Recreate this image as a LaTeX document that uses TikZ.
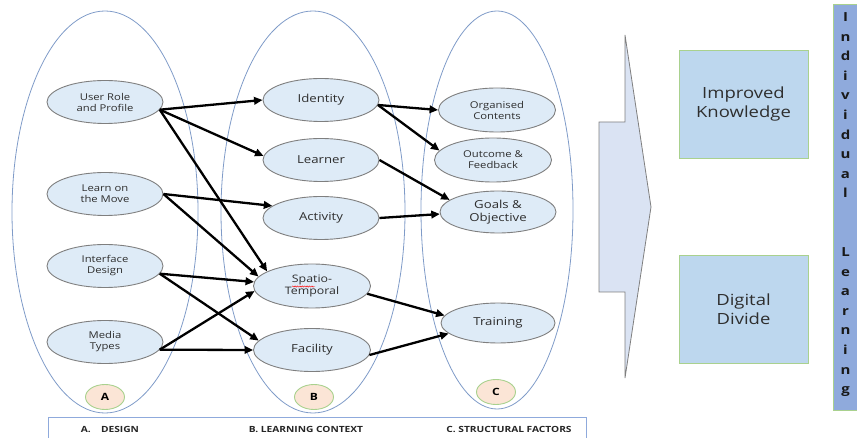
\documentclass[tikz,border=0pt]{standalone}
\usepackage{fontspec}
\setmainfont{Open Sans}
\usetikzlibrary{shapes.geometric,arrows.meta,decorations.pathmorphing}
\definecolor{bigline}{HTML}{7F9BC8}
\definecolor{nodefill}{HTML}{DEEBF7}
\definecolor{nodeline}{HTML}{7F7F7F}
\definecolor{txt}{HTML}{2E2E2E}
\definecolor{circfill}{HTML}{FBE5D6}
\definecolor{circline}{HTML}{A9D18E}
\definecolor{legline}{HTML}{8FAADC}
\definecolor{chevfill}{HTML}{DAE3F3}
\definecolor{boxfill}{HTML}{BDD7EE}
\definecolor{barfill}{HTML}{8FAADC}
\newcommand\hsc[1]{\scalebox{1.2}[1]{#1}}
\begin{document}
\begin{tikzpicture}[x=1pt,y=-1pt,
 group/.style={ellipse, draw=bigline, line width=0.8pt, inner sep=0},
 item/.style={ellipse, draw=nodeline, fill=nodefill, line width=0.9pt, inner sep=0,
   minimum width=116pt, minimum height=43pt, text=txt, align=center},
 sm/.style={font=\fontsize{9.4}{11}\selectfont},
 md/.style={font=\fontsize{11}{13}\selectfont},
 tag/.style={ellipse, draw=circline, fill=circfill, line width=0.9pt, minimum width=39pt,
   minimum height=25pt, inner sep=0, text=black, font=\bfseries\fontsize{10}{12}\selectfont},
 link/.style={-{Triangle[length=8.5pt,width=7.5pt]}, line width=2.3pt, black},
 outbox/.style={rectangle, draw=circline, fill=boxfill, line width=0.9pt, minimum width=129pt,
   minimum height=108pt, inner sep=0, text=txt, align=center, font=\fontsize{15.4}{19}\selectfont},
 legtext/.style={inner sep=0, text=black!85, font=\bfseries\fontsize{8.5}{10}\selectfont},
 vletter/.style={anchor=base, inner sep=0, text=black!90, font=\bfseries\fontsize{12.5}{14}\selectfont},
]
\useasboundingbox (0,0) rectangle (857,438);
% groups
\node[group, minimum width=186pt, minimum height=402pt] (ga) at (105,212) {};
\node[group, minimum width=184pt, minimum height=402pt] (gb) at (313,212) {};
\node[group, minimum width=152pt, minimum height=398pt] (gc) at (497,210) {};
% column A
\node[item, sm] (ur) at (105,102) {\hsc{User Role}\\\hsc{and Profile}};
\node[item, sm] (lm) at (105,194) {\hsc{Learn on}\\\hsc{the Move}};
\node[item, sm] (ifd) at (105,266) {\hsc{Interface}\\\hsc{Design}};
\node[item, sm] (mt) at (105,342) {\hsc{Media}\\\hsc{Types}};
\node[tag] (ta) at (105,397) {\hsc{A}};
% column B
\node[item, md] (idn) at (321,100) {\hsc{Identity}};
\node[item, md] (lrn) at (321,160) {\hsc{Learner}};
\node[item, md] (act) at (321,218) {\hsc{Activity}};
\node[item, font=\fontsize{10.3}{12}\selectfont, minimum width=117pt, minimum height=44pt] (spt) at (312,286) {\hsc{Spatio-}\\\hsc{Temporal}};
\node[item, md, minimum width=117pt] (fac) at (312,350) {\hsc{Facility}};
\node[tag] (tb) at (314,397) {\hsc{B}};
% column C
\node[item, sm, minimum width=117pt, minimum height=44pt] (org) at (497,110) {\hsc{Organised}\\\hsc{Contents}};
\node[item, sm, minimum width=117pt, minimum height=44pt] (out) at (493,160) {\hsc{Outcome \&}\\\hsc{Feedback}};
\node[item, md, minimum width=116pt, minimum height=42pt] (goa) at (498,212) {\hsc{Goals \&}\\\hsc{Objective}};
\node[item, md, minimum width=114pt, minimum height=40pt] (tra) at (498,323) {\hsc{Training}};
\node[tag] (tc) at (496,392) {\hsc{C}};
% spell-check squiggle
\draw[red, line width=0.45pt, decorate, decoration={snake, amplitude=0.6pt, segment length=2.4pt}]
  ([shift={(-20,0.5)}]spt.center) -- ([shift={(3,0.5)}]spt.center);
% arrows A -> B
\draw[link] (ur.-8) -- (idn.west);
\draw[link] (ur.-8) -- (lrn.176);
\draw[link] (ur.-8) -- (spt.162);
\draw[link] (lm.east) -- (act.166);
\draw[link] (lm.east) -- (spt.170);
\draw[link] (ifd.-8) -- (spt.176);
\draw[link] (ifd.-8) -- (fac.170);
\draw[link] (mt.-8) -- (spt.185);
\draw[link] (mt.-8) -- (fac.180);
% arrows B -> C
\draw[link] (idn.-5) -- (org.west);
\draw[link] (idn.-5) -- (out.170);
\draw[link] (lrn.east) -- (goa.166);
\draw[link] (act.east) -- (goa.182);
\draw[link] (spt.-8) -- (tra.172);
\draw[link] (fac.-5) -- (tra.192);
% legend
\node[rectangle, draw=legline, line width=1.2pt, anchor=north west, minimum width=538pt,
  minimum height=40pt, inner sep=0] (leg) at (48,417) {};
\node[legtext] (la) at (110,429) {\hsc{A.\quad DESIGN}};
\node[legtext] (lb) at (306,429) {\hsc{B. LEARNING CONTEXT}};
\node[legtext] (lc) at (509,429) {\hsc{C. STRUCTURAL FACTORS}};
% chevron
\draw[draw=nodeline, fill=chevfill, line width=0.8pt]
  (625,35) -- (651,207) -- (625,378) -- (625,292) -- (599,292) -- (599,122) -- (625,122) -- cycle;
% outcome boxes
\node[outbox] (ik) at (743.5,104) {\hsc{Improved}\\\hsc{Knowledge}};
\node[outbox] (dd) at (743.5,309) {\hsc{Digital}\\\hsc{Divide}};
% vertical bar
\node[rectangle, draw=circline, fill=barfill, line width=0.9pt, anchor=north west,
  minimum width=30pt, minimum height=406pt, inner sep=0] (bar) at (833,4) {};
\foreach \ch [count=\k] in {I,n,d,i,v,i,d,u,a,l}
  \node[vletter] (va\k) at (845.5,{21.5+19.6*(\k-1)}) {\hsc{\ch}};
\foreach \ch [count=\k] in {L,e,a,r,n,i,n,g}
  \node[vletter] (vb\k) at (845.5,{256.5+19.6*(\k-1)}) {\hsc{\ch}};
\end{tikzpicture}
\end{document}
